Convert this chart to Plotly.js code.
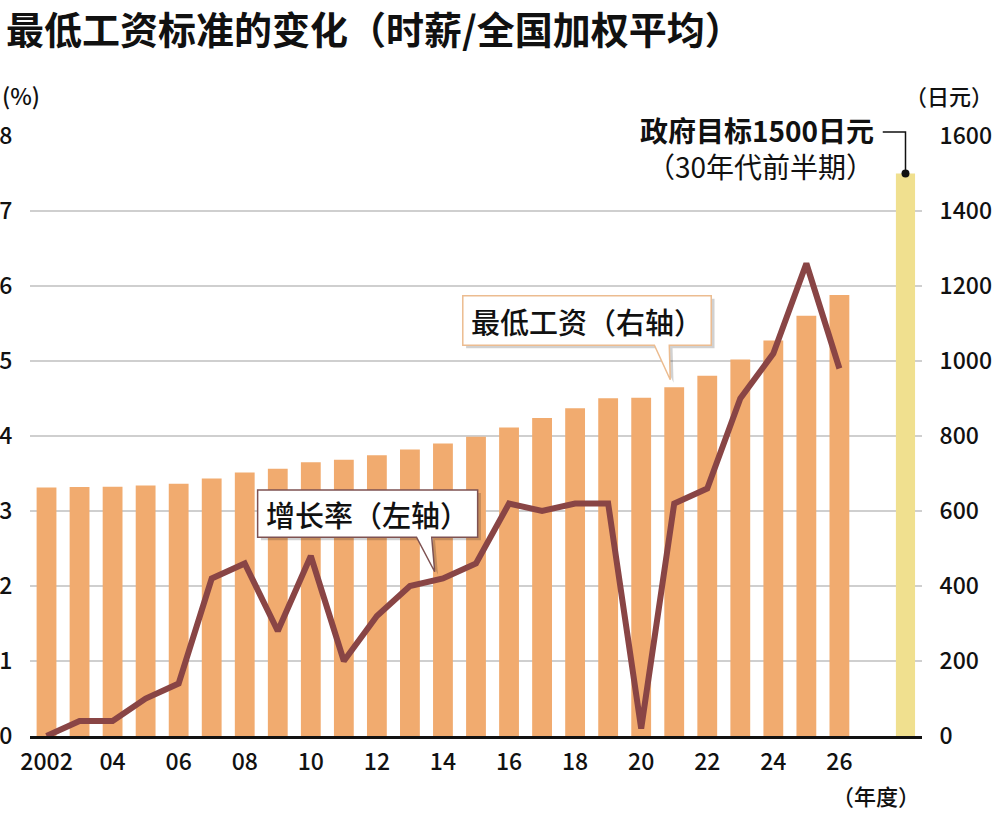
<!DOCTYPE html>
<html>
<head>
<meta charset="utf-8">
<script src="https://cdn.plot.ly/plotly-3.0.1.min.js"></script>
<style>
  body { margin: 0; background: #fff; }
  #chart { width: 1000px; height: 840px; }
</style>
</head>
<body>
<div id="chart"></div>
<script>
// 年度 and values
var years = [2002, 2003, 2004, 2005, 2006, 2007, 2008, 2009, 2010, 2011, 2012, 2013,
             2014, 2015, 2016, 2017, 2018, 2019, 2020, 2021, 2022, 2023, 2024, 2025, 2026];
// 最低工资 (日元, right axis)
var wage = [663, 664, 665, 668, 673, 687, 703, 713, 730, 737, 749, 764,
            780, 798, 823, 848, 874, 901, 902, 930, 961, 1004, 1055, 1121, 1176];
// 增长率 (%, left axis)
var growth = [0.0, 0.2, 0.2, 0.5, 0.7, 2.1, 2.3, 1.4, 2.4, 1.0, 1.6, 2.0,
              2.1, 2.3, 3.1, 3.0, 3.1, 3.1, 0.1, 3.1, 3.3, 4.5, 5.1, 6.3, 4.9];
// government target bar
var targetYear = [2028];
var targetWage = [1500];

var tickYears = [2002, 2004, 2006, 2008, 2010, 2012, 2014, 2016, 2018, 2020, 2022, 2024, 2026];
var tickText = ['2002', '04', '06', '08', '10', '12', '14', '16', '18', '20', '22', '24', '26'];
var wageTicks = [0, 200, 400, 600, 800, 1000, 1200, 1400, 1600];
var rateTicks = [0, 1, 2, 3, 4, 5, 6, 7, 8];

var FONT = '"Noto Sans CJK SC", "Noto Sans", sans-serif';
var tickFont = {family: FONT, size: 23, weight: 500, color: '#111'};

var wageBars = {
  x: years, y: wage, type: 'bar', yaxis: 'y', width: 0.6,
  marker: {color: '#F1AB6F'}, name: '最低工资'
};
var targetBar = {
  x: targetYear, y: targetWage, type: 'bar', yaxis: 'y', width: 0.58,
  marker: {color: '#F0E08F'}, name: '政府目标'
};
var targetDot = {
  x: targetYear, y: targetWage, type: 'scatter', mode: 'markers', yaxis: 'y',
  marker: {color: '#111', size: 8}, cliponaxis: false, name: '目标'
};
var growthLine = {
  x: years, y: growth, type: 'scatter', mode: 'lines', yaxis: 'y2',
  line: {color: '#894545', width: 6}, name: '增长率'
};

//speech bubble outlines (box + tail), in x / left-axis units
var bubble1 = 'M 2014.6,5.87 L 2022.12,5.87 L 2022.12,5.21 L 2020.85,5.21 L 2020.88,4.75 L 2020.4,5.21 L 2014.6,5.21 Z';
var bubble2 = 'M 2008.39,3.28 L 2015.05,3.28 L 2015.05,2.65 L 2013.66,2.65 L 2013.75,2.19 L 2013.2,2.65 L 2008.39,2.65 Z';
var shadow1 = 'M 2014.7,5.83 L 2022.22,5.83 L 2022.22,5.17 L 2020.95,5.17 L 2020.98,4.71 L 2020.5,5.17 L 2014.7,5.17 Z';
var shadow2 = 'M 2008.49,3.24 L 2015.15,3.24 L 2015.15,2.61 L 2013.76,2.61 L 2013.85,2.15 L 2013.3,2.61 L 2008.49,2.61 Z';

var layout = {
  width: 1000, height: 840,
  margin: {l: 30, r: 78, t: 136, b: 104},
  paper_bgcolor: '#fff', plot_bgcolor: '#fff',
  showlegend: false,
  barmode: 'overlay',
  font: {family: FONT, color: '#111', size: 23},
  title: {
    text: '<b>最低工资标准的变化（时薪/全国加权平均）</b>',
    font: {family: FONT, size: 38, color: '#111'},
    x: 0.006, xanchor: 'left', y: 0.964, yanchor: 'middle'
  },
  xaxis: {
    range: [2001.5, 2028.5],
    tickvals: tickYears, ticktext: tickText,
    showgrid: false, zeroline: false,
    showline: true, linecolor: '#111', linewidth: 2.5,
    ticks: 'outside', ticklen: 4, tickcolor: 'rgba(0,0,0,0)',
    tickfont: tickFont
  },
  yaxis: {
    side: 'right', range: [0, 1600], tickvals: wageTicks,
    showgrid: true, gridcolor: '#cfcfcf', gridwidth: 1.5,
    zeroline: false, showline: false,
    ticks: 'outside', ticklen: 12, tickcolor: 'rgba(0,0,0,0)',
    tickfont: tickFont
  },
  yaxis2: {
    overlaying: 'y', side: 'left', range: [0, 8], tickvals: rateTicks,
    showgrid: false, zeroline: false, showline: false,
    ticks: 'outside', ticklen: 12, tickcolor: 'rgba(0,0,0,0)',
    tickfont: tickFont
  },
  shapes: [
    {type: 'path', xref: 'x', yref: 'y2', path: shadow1, fillcolor: 'rgba(0,0,0,0.18)', line: {width: 0}},
    {type: 'path', xref: 'x', yref: 'y2', path: bubble1, fillcolor: '#fff', line: {color: '#ECBC90', width: 1.5}},
    {type: 'path', xref: 'x', yref: 'y2', path: shadow2, fillcolor: 'rgba(0,0,0,0.18)', line: {width: 0}},
    {type: 'path', xref: 'x', yref: 'y2', path: bubble2, fillcolor: '#fff', line: {color: '#7E5252', width: 1.5}},
    // leader from target label to the target bar
    {type: 'path', xref: 'paper', yref: 'paper', path: 'M 0.956,1.0067 L 0.9815,1.0067 L 0.9815,0.9375',
     line: {color: '#111', width: 1.5}}
  ],
  annotations: [
    {xref: 'x', yref: 'y2', x: 2018.36, y: 5.54, text: '最低工资（右轴）', showarrow: false,
     font: {family: FONT, size: 29, weight: 500, color: '#111'}},
    {xref: 'x', yref: 'y2', x: 2011.72, y: 2.96, text: '增长率（左轴）', showarrow: false,
     font: {family: FONT, size: 29, weight: 500, color: '#111'}},
    {xref: 'paper', yref: 'paper', x: 0.9484, y: 0.9795, xanchor: 'right', yanchor: 'middle', align: 'right',
     text: '<b>政府目标1500日元</b><br>（30年代前半期）', showarrow: false,
     font: {family: FONT, size: 28, color: '#111'}},
    {xref: 'paper', yref: 'paper', x: -0.0336, y: 1.068, xanchor: 'left', yanchor: 'middle',
     text: '(%)', showarrow: false, font: {family: FONT, size: 23, weight: 500, color: '#111'}},
    {xref: 'paper', yref: 'paper', x: 1.0818, y: 1.068, xanchor: 'right', yanchor: 'middle',
     text: '（日元）', showarrow: false, font: {family: FONT, size: 22, weight: 500, color: '#111'}},
    {xref: 'paper', yref: 'paper', x: 1.0, y: -0.0983, xanchor: 'right', yanchor: 'middle',
     text: '（年度）', showarrow: false, font: {family: FONT, size: 22, weight: 500, color: '#111'}}
  ]
};

Plotly.newPlot('chart', [wageBars, targetBar, targetDot, growthLine], layout,
  {displayModeBar: false, staticPlot: true});
</script>
</body>
</html>
